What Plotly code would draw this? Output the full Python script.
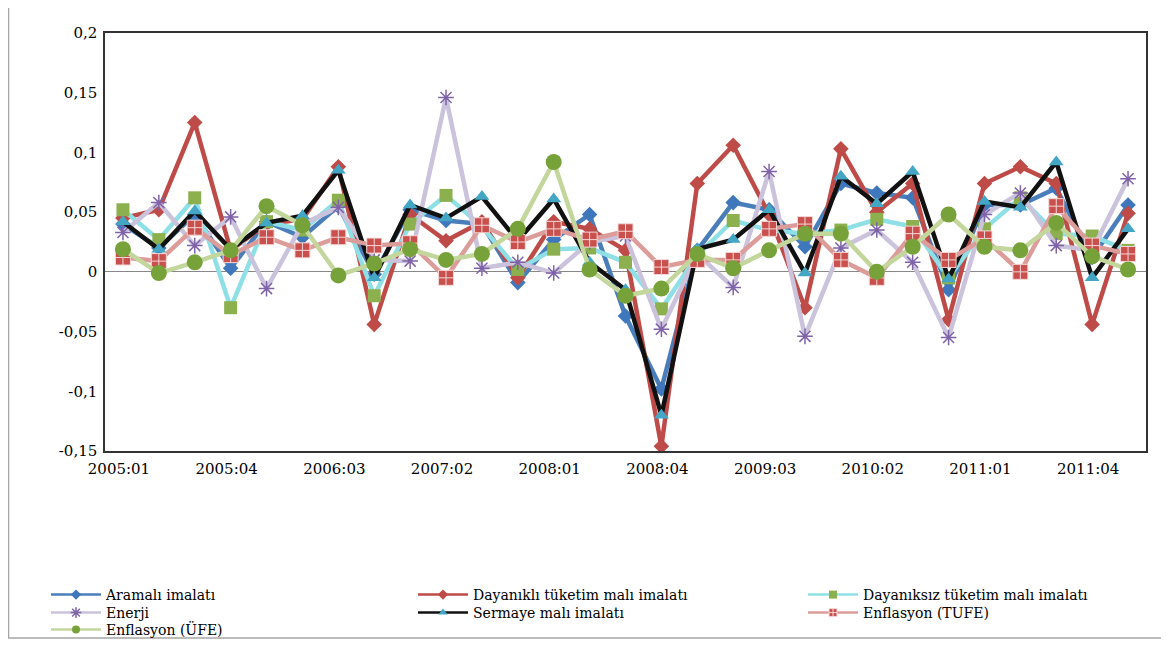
import plotly.graph_objects as go

quarters = ["2005:01", "2005:02", "2005:03", "2005:04", "2006:01", "2006:02", "2006:03", "2006:04",
            "2007:01", "2007:02", "2007:03", "2007:04", "2008:01", "2008:02", "2008:03", "2008:04",
            "2009:01", "2009:02", "2009:03", "2009:04", "2010:01", "2010:02", "2010:03", "2010:04",
            "2011:01", "2011:02", "2011:03", "2011:04", "2012:01"]

aramali = [0.040, 0.020, 0.048, 0.003, 0.042, 0.029, 0.055, -0.002, 0.052, 0.043, 0.040, -0.009,
           0.027, 0.048, -0.037, -0.098, 0.018, 0.058, 0.052, 0.021, 0.074, 0.066, 0.062, -0.015,
           0.056, 0.056, 0.070, 0.012, 0.056]
dayanikli = [0.045, 0.052, 0.125, 0.018, 0.040, 0.044, 0.088, -0.044, 0.048, 0.026, 0.042, -0.005,
             0.042, 0.036, 0.018, -0.146, 0.074, 0.106, 0.048, -0.030, 0.103, 0.050, 0.074, -0.040,
             0.074, 0.088, 0.074, -0.044, 0.049]
dayaniksiz = [0.052, 0.027, 0.062, -0.030, 0.042, 0.035, 0.060, -0.020, 0.040, 0.064, 0.038, 0.002,
              0.019, 0.020, 0.008, -0.031, 0.014, 0.043, 0.035, 0.032, 0.035, 0.044, 0.038, -0.005,
              0.036, 0.062, 0.032, 0.030, 0.018]
enerji = [0.033, 0.058, 0.022, 0.046, -0.014, 0.040, 0.054, 0.010, 0.009, 0.146, 0.003, 0.008,
          -0.001, 0.025, 0.030, -0.048, 0.015, -0.013, 0.084, -0.054, 0.020, 0.035, 0.008, -0.055,
          0.048, 0.066, 0.022, 0.018, 0.078]
sermaye = [0.042, 0.019, 0.051, 0.019, 0.041, 0.047, 0.085, -0.005, 0.056, 0.045, 0.063, 0.026,
           0.061, 0.008, -0.015, -0.120, 0.019, 0.027, 0.052, -0.001, 0.080, 0.057, 0.084, -0.006,
           0.059, 0.054, 0.092, -0.005, 0.036]
tufe = [0.012, 0.009, 0.037, 0.014, 0.029, 0.018, 0.029, 0.022, 0.024, -0.005, 0.039, 0.025,
        0.036, 0.027, 0.034, 0.004, 0.010, 0.010, 0.036, 0.040, 0.010, -0.005, 0.032, 0.010,
        0.028, 0.000, 0.055, 0.022, 0.015]
ufe = [0.019, -0.001, 0.008, 0.018, 0.055, 0.039, -0.003, 0.007, 0.019, 0.010, 0.015, 0.036,
       0.092, 0.002, -0.020, -0.014, 0.015, 0.003, 0.018, 0.032, 0.032, 0.000, 0.021, 0.048,
       0.021, 0.018, 0.041, 0.013, 0.002]

y_ticks = [0.2, 0.15, 0.1, 0.05, 0, -0.05, -0.1, -0.15]
y_tick_text = ["0,2", "0,15", "0,1", "0,05", "0", "-0,05", "-0,1", "-0,15"]

# name, values, line colour, symbol, marker colour, size, marker line width, marker line colour
series = [
    ("Aramalı imalatı", aramali, "#4A7EBB", "diamond", "#3F77BC", 12, 0, None),
    ("Dayanıklı tüketim malı imalatı", dayanikli, "#BE4B48", "diamond", "#BE4B48", 12, 0, None),
    ("Dayanıksız tüketim malı imalatı", dayaniksiz, "#8EE0E6", "square", "#8DB04F", 13, 0, None),
    ("Enerji", enerji, "#CBC2DC", "asterisk-open", "#7F63A8", 13, 1.5, "#7F63A8"),
    ("Sermaye malı imalatı", sermaye, "#111111", "triangle-up", "#43A6C4", 13, 0, None),
    ("Enflasyon (TUFE)", tufe, "#DC9C9A", "square-cross", "#C9504D", 15, 1, "#F4D8D8"),
    ("Enflasyon (ÜFE)", ufe, "#C3D69B", "circle", "#77A23A", 16, 0, None),
]

OFF = 8  # page offset of the figure inside the browser window
W, H = 1169, 648
L, T = 105 - OFF, 33 - OFF
R = W - (1146 - OFF)
B = H - (451 - OFF)
pw, ph = W - L - R, H - T - B

def px_x(page_px):
    return (page_px - OFF - L) / pw

def px_y(page_py):
    return (H - B - (page_py - OFF)) / ph

# legend placement in page px (left of legend box, centre y)
legend_pos = [(46, 595), (413, 595), (803, 595), (46, 613), (413, 613), (803, 613), (46, 630)]

fig = go.Figure()
for name, vals, lcol, sym, mcol, msize, mlw, mlc in series:
    fig.add_trace(go.Scatter(
        x=quarters, y=vals, name=name, mode="lines+markers",
        line=dict(color=lcol, width=4.5),
        marker=dict(symbol=sym, size=msize, color=mcol,
                    line=dict(width=mlw, color=mlc if mlc else mcol)),
        showlegend=False,
    ))

legend_font = dict(family="DejaVu Serif", size=14, color="#000000")
layout_legends = {}
for k, (name, vals, lcol, sym, mcol, msize, mlw, mlc) in enumerate(series):
    lid = "legend" if k == 0 else "legend%d" % (k + 1)
    fig.add_trace(go.Scatter(
        x=[None], y=[None], name=name, mode="lines+markers",
        line=dict(color=lcol, width=2.5),
        marker=dict(symbol=sym, size=8 if sym != "asterisk-open" else 9, color=mcol,
                    line=dict(width=mlw if mlw else 0, color=mlc if mlc else mcol)),
        legend=lid, showlegend=True,
    ))
    lx, ly = legend_pos[k]
    layout_legends[lid] = dict(x=px_x(lx), y=px_y(ly), xanchor="left", yanchor="middle",
                               orientation="v", font=legend_font, bgcolor="rgba(0,0,0,0)",
                               itemwidth=50, borderwidth=0)

fig.update_layout(
    width=W, height=H,
    margin=dict(l=L, r=R, t=T, b=B, autoexpand=False),
    paper_bgcolor="white", plot_bgcolor="white",
    font=dict(family="DejaVu Serif", size=15, color="#000000"),
    xaxis=dict(type="category", categoryorder="array", categoryarray=quarters,
               tickvals=quarters[::3], ticktext=quarters[::3],
               showgrid=False, showline=True, linecolor="#333333", linewidth=1.5, mirror=True,
               ticks="", ticklabelshift=-4, ticklabelstandoff=3,
               tickfont=dict(family="DejaVu Serif", size=15),
               range=[-0.5, len(quarters) - 0.5], zeroline=False, automargin=False),
    yaxis=dict(range=[-0.15, 0.2], tickvals=y_ticks, ticktext=y_tick_text,
               showgrid=False, showline=True, linecolor="#333333", linewidth=1.5, mirror=True,
               zeroline=True, zerolinecolor="#888888", zerolinewidth=1.2,
               ticks="", ticklabelstandoff=3, tickfont=dict(family="DejaVu Serif", size=15),
               automargin=False),
    shapes=[dict(type="rect", xref="paper", yref="paper",
                 x0=px_x(8.5), x1=px_x(1180), y0=px_y(638), y1=px_y(-5),
                 line=dict(color="#A6A6A6", width=1.5), fillcolor="rgba(0,0,0,0)", layer="below")],
    **layout_legends,
)

fig.write_html("out.html")
